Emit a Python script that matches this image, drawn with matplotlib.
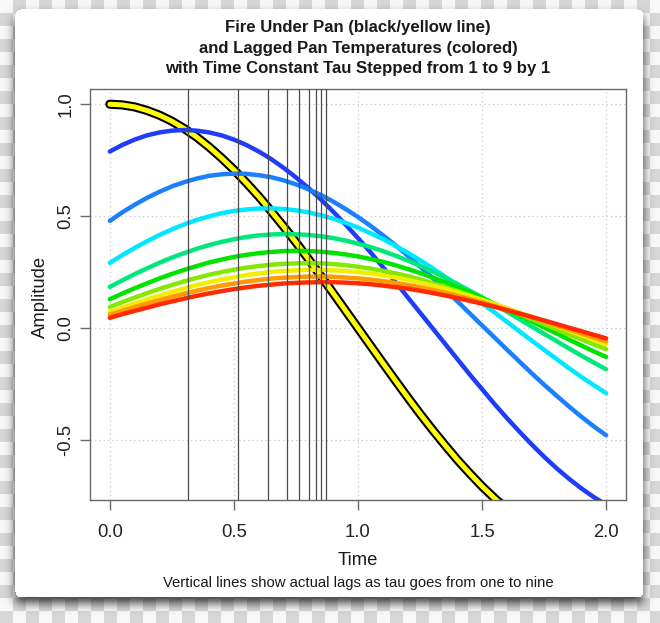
import numpy as np
import matplotlib
matplotlib.use("Agg")
import matplotlib.pyplot as plt

plt.rcParams['font.family'] = ['Liberation Sans', 'DejaVu Sans']

# ---------------- data ----------------
time = [0.00, 0.05, 0.10, 0.15, 0.20, 0.25, 0.30, 0.35, 0.40, 0.45, 0.50,
        0.55, 0.60, 0.65, 0.70, 0.75, 0.80, 0.85, 0.90, 0.95, 1.00,
        1.05, 1.10, 1.15, 1.20, 1.25, 1.30, 1.35, 1.40, 1.45, 1.50,
        1.55, 1.60, 1.65, 1.70, 1.75, 1.80, 1.85, 1.90, 1.95, 2.00]

fire = [1.000, 0.997, 0.988, 0.972, 0.951, 0.924, 0.891, 0.853, 0.809, 0.760, 0.707,
        0.649, 0.588, 0.522, 0.454, 0.383, 0.309, 0.233, 0.156, 0.078, 0.000,
        -0.078, -0.156, -0.233, -0.309, -0.383, -0.454, -0.522, -0.588, -0.649, -0.707,
        -0.760, -0.809, -0.853, -0.891, -0.924, -0.951, -0.972, -0.988, -0.997, -1.000]

pan_tau1 = [0.789, 0.818, 0.842, 0.861, 0.874, 0.882, 0.885, 0.882, 0.874, 0.861, 0.842,
            0.818, 0.789, 0.755, 0.716, 0.673, 0.626, 0.575, 0.520, 0.462, 0.402,
            0.339, 0.273, 0.207, 0.138, 0.069, 0.000, -0.069, -0.138, -0.207, -0.273,
            -0.339, -0.402, -0.462, -0.520, -0.575, -0.626, -0.673, -0.716, -0.755, -0.789]
pan_tau2 = [0.479, 0.517, 0.551, 0.582, 0.609, 0.633, 0.652, 0.668, 0.680, 0.687, 0.690,
            0.689, 0.683, 0.674, 0.660, 0.642, 0.620, 0.595, 0.565, 0.532, 0.496,
            0.457, 0.415, 0.371, 0.324, 0.275, 0.225, 0.173, 0.120, 0.066, 0.012,
            -0.042, -0.096, -0.149, -0.202, -0.253, -0.302, -0.350, -0.396, -0.439, -0.479]
pan_tau3 = [0.291, 0.326, 0.358, 0.388, 0.416, 0.441, 0.463, 0.483, 0.499, 0.513, 0.523,
            0.530, 0.534, 0.535, 0.532, 0.526, 0.517, 0.504, 0.489, 0.470, 0.449,
            0.424, 0.398, 0.368, 0.337, 0.303, 0.268, 0.230, 0.192, 0.152, 0.111,
            0.070, 0.028, -0.014, -0.056, -0.097, -0.138, -0.179, -0.218, -0.255, -0.291]
pan_tau4 = [0.184, 0.213, 0.241, 0.267, 0.292, 0.315, 0.335, 0.354, 0.371, 0.385, 0.397,
            0.407, 0.414, 0.418, 0.420, 0.419, 0.416, 0.410, 0.402, 0.391, 0.377,
            0.362, 0.344, 0.324, 0.302, 0.278, 0.253, 0.226, 0.197, 0.167, 0.137,
            0.105, 0.073, 0.040, 0.007, -0.026, -0.058, -0.091, -0.123, -0.154, -0.184]
pan_tau5 = [0.129, 0.154, 0.178, 0.200, 0.222, 0.242, 0.260, 0.277, 0.293, 0.306, 0.318,
            0.327, 0.335, 0.340, 0.344, 0.345, 0.344, 0.341, 0.336, 0.329, 0.320,
            0.309, 0.296, 0.281, 0.264, 0.246, 0.226, 0.205, 0.183, 0.159, 0.135,
            0.109, 0.083, 0.057, 0.030, 0.003, -0.024, -0.051, -0.078, -0.104, -0.129]
pan_tau6 = [0.094, 0.116, 0.136, 0.156, 0.175, 0.192, 0.209, 0.224, 0.238, 0.250, 0.261,
            0.270, 0.277, 0.283, 0.287, 0.289, 0.290, 0.289, 0.286, 0.281, 0.274,
            0.266, 0.256, 0.245, 0.232, 0.217, 0.201, 0.184, 0.166, 0.147, 0.127,
            0.106, 0.085, 0.063, 0.040, 0.018, -0.005, -0.028, -0.050, -0.073, -0.094]
pan_tau7 = [0.072, 0.091, 0.110, 0.128, 0.145, 0.162, 0.177, 0.192, 0.205, 0.217, 0.227,
            0.237, 0.244, 0.251, 0.255, 0.258, 0.260, 0.260, 0.258, 0.255, 0.250,
            0.244, 0.236, 0.226, 0.216, 0.203, 0.190, 0.176, 0.160, 0.143, 0.126,
            0.108, 0.089, 0.069, 0.050, 0.029, 0.009, -0.011, -0.032, -0.052, -0.072]
pan_tau8 = [0.060, 0.077, 0.094, 0.110, 0.125, 0.140, 0.154, 0.167, 0.179, 0.190, 0.199,
            0.208, 0.215, 0.221, 0.225, 0.228, 0.230, 0.230, 0.229, 0.226, 0.222,
            0.217, 0.210, 0.202, 0.193, 0.182, 0.171, 0.158, 0.145, 0.130, 0.115,
            0.099, 0.082, 0.065, 0.048, 0.030, 0.012, -0.006, -0.024, -0.042, -0.060]
pan_tau9 = [0.046, 0.062, 0.077, 0.091, 0.106, 0.119, 0.132, 0.144, 0.155, 0.165, 0.174,
            0.182, 0.189, 0.194, 0.199, 0.202, 0.204, 0.205, 0.205, 0.203, 0.200,
            0.196, 0.190, 0.183, 0.176, 0.167, 0.157, 0.146, 0.134, 0.122, 0.109,
            0.095, 0.080, 0.065, 0.050, 0.034, 0.018, 0.002, -0.014, -0.030, -0.046]

lags = [0.316, 0.518, 0.638, 0.713, 0.764, 0.801, 0.831, 0.852, 0.870]

tau_colors = ['#1f3cf8', '#1a80ff', '#00e8ff', '#00e87c', '#00e400',
              '#84e800', '#f2ee00', '#ff9a00', '#ff2a00']

x_ticks = [0.0, 0.5, 1.0, 1.5, 2.0]
x_tick_labels = ['0.0', '0.5', '1.0', '1.5', '2.0']
y_ticks = [-0.5, 0.0, 0.5, 1.0]
y_tick_labels = ['-0.5', '0.0', '0.5', '1.0']

title_lines = ['Fire Under Pan (black/yellow line)',
               'and Lagged Pan Temperatures (colored)',
               'with Time Constant Tau Stepped from 1 to 9 by 1']
subtitle = 'Vertical lines show actual lags as tau goes from one to nine'

# ---------------- figure ----------------
W, H = 660, 623
fig = plt.figure(figsize=(W / 100, H / 100), dpi=100)

# background: checkerboard + card with soft shadow
yy, xx = np.mgrid[0:H, 0:W]
sq = 13
checker = ((xx // sq + yy // sq) % 2).astype(float)
img = np.where(checker > 0, 0.84, 0.97)

cx0, cx1, cy0, cy1, rad = 15, 643, 9, 597, 6


def rounded_mask(x0, x1, y0, y1, r, dy=0):
    y0, y1 = y0 + dy, y1 + dy
    m = (xx >= x0) & (xx < x1) & (yy >= y0) & (yy < y1)
    for (ccx, ccy) in [(x0 + r, y0 + r), (x1 - r, y0 + r), (x0 + r, y1 - r), (x1 - r, y1 - r)]:
        corner = (np.abs(xx - ccx) <= r) & (np.abs(yy - ccy) <= r)
        inside_box = ((xx < x0 + r) | (xx >= x1 - r)) & ((yy < y0 + r) | (yy >= y1 - r))
        far = (xx - ccx) ** 2 + (yy - ccy) ** 2 > r * r
        m &= ~(corner & inside_box & far)
    return m.astype(float)


shadow = rounded_mask(cx0, cx1, cy0, cy1, rad, dy=6)
sig = 5.0
R = 15
k = np.exp(-0.5 * (np.arange(-R, R + 1) / sig) ** 2)
k /= k.sum()
pad = np.pad(shadow, R, mode='constant')
tmp = np.zeros_like(pad)
for i, w in enumerate(k):
    tmp += w * np.roll(pad, i - R, axis=1)
tmp2 = np.zeros_like(pad)
for i, w in enumerate(k):
    tmp2 += w * np.roll(tmp, i - R, axis=0)
shadow = tmp2[R:-R, R:-R]
img = img * (1 - 0.75 * shadow)
card = rounded_mask(cx0, cx1, cy0, cy1, rad)
img = np.where(card > 0, 1.0, img)

bg = fig.add_axes([0, 0, 1, 1], zorder=-10)
bg.imshow(img, cmap='gray', vmin=0, vmax=1, extent=[0, W, H, 0],
          aspect='auto', interpolation='nearest')
bg.set_xlim(0, W)
bg.set_ylim(H, 0)
bg.axis('off')

# main plot
ax = fig.add_axes([90 / W, 1 - 500 / H, 536 / W, 411 / H])
ax.set_facecolor('white')
ax.set_xlim(-0.08, 2.08)
ax.set_ylim(-0.768, 1.068)

ax.set_xticks(x_ticks)
ax.set_xticklabels(x_tick_labels)
ax.set_yticks(y_ticks)
ax.set_yticklabels(y_tick_labels, rotation=90, va='center')

ax.grid(True, color='#c8c8c8', linestyle=(0, (1, 2.5)), linewidth=0.9, zorder=0)
ax.set_axisbelow(True)

# fire line: black outline, yellow core
ax.plot(time, fire, color='black', lw=6.6, solid_capstyle='round', zorder=2)
ax.plot(time, fire, color='#ffff00', lw=3.6, solid_capstyle='round', zorder=2.1)

pans = [pan_tau1, pan_tau2, pan_tau3, pan_tau4, pan_tau5,
        pan_tau6, pan_tau7, pan_tau8, pan_tau9]
for i, (vals, col) in enumerate(zip(pans, tau_colors)):
    ax.plot(time, vals, color=col, lw=3.2, solid_capstyle='round', zorder=3 + i * 0.01)

for lg in lags:
    ax.axvline(lg, color='#4a4a4a', lw=0.9, zorder=4)

for sp in ax.spines.values():
    sp.set_color('#6a6a6a')
    sp.set_linewidth(1.0)

ax.tick_params(axis='both', direction='out', length=7.2, width=1.0, color='#6a6a6a',
               labelsize=13.3, labelcolor='#222222')
ax.tick_params(axis='x', pad=10.0)
ax.tick_params(axis='y', pad=4.0)

fs_title = 12.1
for line, yb in zip(title_lines, [32.3, 53.3, 73.3]):
    fig.text(358 / W, 1 - yb / H, line, ha='center', va='baseline',
             fontsize=fs_title, fontweight='bold', color='#1a1a1a')

fig.text(358 / W, 1 - 565 / H, 'Time', ha='center', va='baseline',
         fontsize=13.3, color='#1a1a1a')
fig.text(40 / W, 1 - 296.7 / H, 'Amplitude', ha='center', va='center',
         rotation=90, fontsize=13.3, color='#1a1a1a')
fig.text(358 / W, 1 - 587.3 / H, subtitle, ha='center', va='baseline',
         fontsize=10.7, color='#1a1a1a')

fig.savefig('out.png', dpi=100)
